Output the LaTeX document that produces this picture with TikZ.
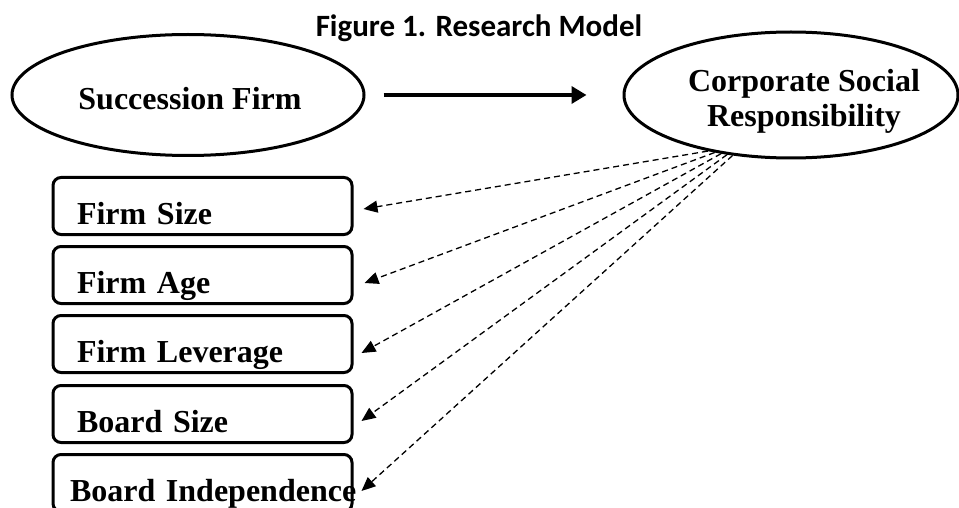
\documentclass[tikz,border=0pt]{standalone}
\usepackage{fontspec}
\setmainfont{Liberation Serif}
\newfontfamily\titlefont{Carlito}
\usetikzlibrary{arrows.meta,shapes.geometric}

\begin{document}
\begin{tikzpicture}[x=1pt,y=-1pt,
  varellipse/.style={draw,ellipse,line width=3pt,inner sep=0pt},
  vartext/.style={align=center,font=\fontsize{32}{35}\selectfont\bfseries},
  varbox/.style={draw,line width=3pt,rounded corners=8pt,inner xsep=24pt,inner ysep=0pt,text width=251pt,text height=47pt,text depth=10pt,align=left,font=\fontsize{32}{35}\selectfont\bfseries},
  mainarrow/.style={-{Triangle[length=15pt,width=17pt]},line width=3.5pt},
  dasharrow/.style={-{Triangle[length=14pt,width=12pt]},line width=1.3pt,dash pattern=on 6pt off 4pt}]
\useasboundingbox (0,0) rectangle (959,508);
\clip (0,0) rectangle (959,508);
\node [anchor=base,font=\titlefont\bfseries\fontsize{31}{36}\selectfont] (title) at (479,37) {Figure 1. Research Model};

\node [varellipse,minimum width=352pt,minimum height=121pt] (succ) at (188,95) {};
\node [vartext] (succtext) at (190,99) {Succession Firm};
\node [varellipse,minimum width=334pt,minimum height=126pt] (csr) at (791,95) {};
\node [vartext] (csrtext) at (804,101) {Corporate Social\\Responsibility};
\draw [mainarrow,shorten <=18pt,shorten >=36pt] (succ) -- (csr);

\node [varbox] (fsize) at (202.5,206) {Firm Size};
\node [varbox] (fage) at (202.5,275) {Firm Age};
\node [varbox] (flev) at (202.5,344) {Firm Leverage};
\node [varbox] (bsize) at (202.5,414) {Board Size};
\node [varbox] (bind) at (202.5,483) {\mbox{\hspace*{-7pt}Board Independence}};

\draw [dasharrow] (csr.214) -- ([shift={(10,3)}]fsize.east);
\draw [dasharrow] (csr.217) -- ([shift={(11,8)}]fage.east);
\draw [dasharrow] (csr.220) -- ([shift={(8,9)}]flev.east);
\draw [dasharrow] (csr.223) -- ([shift={(8,7)}]bsize.east);
\draw [dasharrow] (csr.226) -- ([shift={(8,8)}]bind.east);
\end{tikzpicture}
\end{document}
